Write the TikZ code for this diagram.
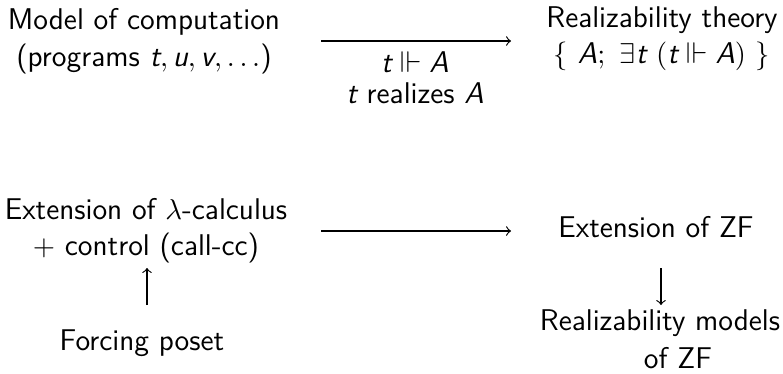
\documentclass[tikz,border=0pt]{standalone}
\usepackage{amssymb}
\newcommand\mi[1]{\mbox{\sffamily\slshape #1}}
\tikzset{
  lbl/.style={font=\sffamily\fontsize{11.45}{14}\selectfont, align=center, inner sep=0pt, anchor=base},
  arr/.style={-to, line width=0.45pt}
}
\begin{document}
\begin{tikzpicture}[x=0.382pt, y=-0.382pt]
\useasboundingbox (0,0) rectangle (783,373);
\node[lbl] (model) at (144,66) {Model of computation\\(programs $\mi{t}, \mi{u}, \mi{v}, \dots$)};
\node[lbl, font=\sffamily\fontsize{11.45}{13.4}\selectfont] (real) at (662,63) {Realizability theory\\$\{\ \mi{A};\ \exists \mi{t}\ (\mi{t} \Vdash \mi{A})\ \}$};
\node[lbl, font=\sffamily\fontsize{11.45}{11.5}\selectfont] (lab) at (415,103) {$\mi{t} \Vdash \mi{A}$\\$\mi{t}$ realizes $\mi{A}$};
\node[lbl, font=\sffamily\fontsize{11.45}{13.4}\selectfont] (lam) at (146,255) {Extension of $\lambda$-calculus\\$+$ control (call-cc)};
\node[lbl] (force) at (142,350) {Forcing poset};
\node[lbl] (zf) at (656,237) {Extension of ZF};
\node[lbl, font=\sffamily\fontsize{11.45}{14.5}\selectfont] (rm) at (660,368) {Realizability models\\\hspace*{1.2em}of ZF};
\coordinate (a1s) at (321,41);
\coordinate (a1e) at (511,41);
\draw[arr] (a1s) -- (a1e);
\coordinate (a2s) at (321,231);
\coordinate (a2e) at (511,231);
\draw[arr] (a2s) -- (a2e);
\coordinate (a3s) at (147,305);
\coordinate (a3e) at (147,268);
\draw[arr] (a3s) -- (a3e);
\coordinate (a4s) at (661,268);
\coordinate (a4e) at (661,305);
\draw[arr] (a4s) -- (a4e);
\end{tikzpicture}
\end{document}
